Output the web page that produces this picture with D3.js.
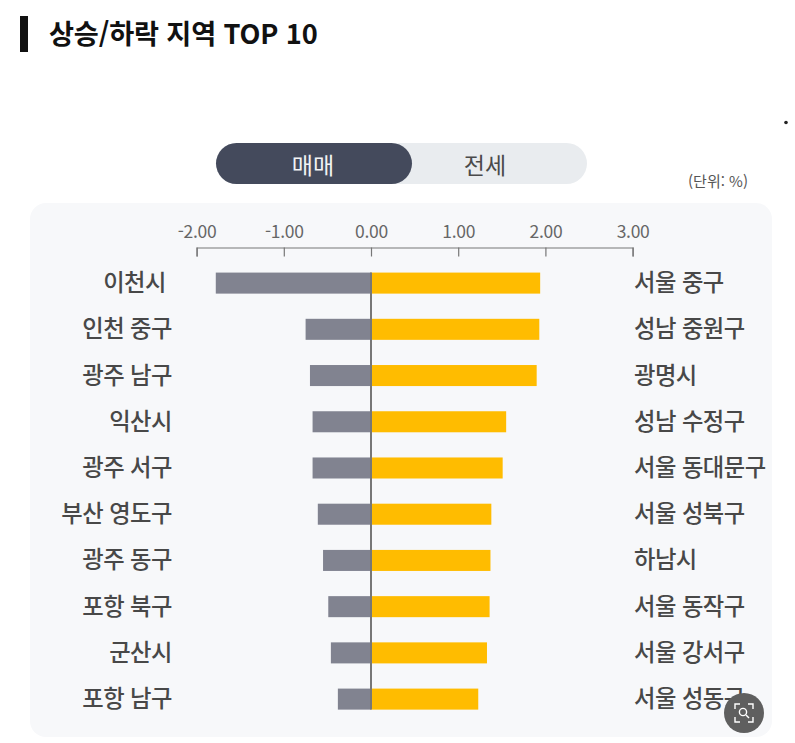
<!DOCTYPE html>
<html lang="ko">
<head>
<meta charset="utf-8">
<script src="https://cdn.jsdelivr.net/npm/d3@7"></script>
<style>
  html, body { margin: 0; padding: 0; background: #fff; }
  text { font-family: "Noto Sans CJK KR", "Noto Sans", sans-serif; }
</style>
</head>
<body>
<div id="main-container"></div>
<script>
var fallNames = ["이천시", "인천 중구", "광주 남구", "익산시", "광주 서구", "부산 영도구", "광주 동구", "포항 북구", "군산시", "포항 남구"];
var fallValues = [-1.78, -0.75, -0.70, -0.67, -0.67, -0.61, -0.55, -0.49, -0.46, -0.38];
var riseNames = ["서울 중구", "성남 중원구", "광명시", "성남 수정구", "서울 동대문구", "서울 성북구", "하남시", "서울 동작구", "서울 강서구", "서울 성동구"];
var riseValues = [1.94, 1.93, 1.90, 1.55, 1.51, 1.38, 1.37, 1.36, 1.33, 1.23];
var tickValues = [-2, -1, 0, 1, 2, 3];
var ranks = d3.range(10);

var width = 795, height = 743;

var svg = d3.select("#main-container")
    .append("svg")
    .attr("width", width)
    .attr("height", height)
    .style("display", "block");

// title
svg.append("rect").attr("x", 20).attr("y", 16).attr("width", 8).attr("height", 36).attr("fill", "#111");
svg.append("text")
    .attr("x", 49).attr("y", 44)
    .attr("font-size", 27.2).attr("font-weight", 700).attr("fill", "#111")
    .style("letter-spacing", "-0.15px")
    .text("상승/하락 지역 TOP 10");

// stray dot at the right edge
svg.append("circle").attr("cx", 786).attr("cy", 122.5).attr("r", 1.8).attr("fill", "#222");

// toggle
svg.append("rect").attr("x", 216).attr("y", 143).attr("width", 371).attr("height", 41).attr("rx", 20.5).attr("fill", "#e9ecef");
svg.append("rect").attr("x", 216).attr("y", 143).attr("width", 196).attr("height", 41).attr("rx", 20.5).attr("fill", "#444a5c");
svg.append("text").attr("x", 313).attr("y", 174).attr("text-anchor", "middle")
    .attr("font-size", 23).attr("fill", "#f2f3f5").text("매매");
svg.append("text").attr("x", 485).attr("y", 174).attr("text-anchor", "middle")
    .attr("font-size", 23).attr("fill", "#4a4a4a").text("전세");

svg.append("text").attr("x", 748).attr("y", 187).attr("text-anchor", "end")
    .attr("font-size", 15).attr("fill", "#555").text("(단위: %)");

// panel
svg.append("rect").attr("x", 30).attr("y", 203).attr("width", 742).attr("height", 534).attr("rx", 16).attr("fill", "#f7f8fa");

var x = d3.scaleLinear().domain([-2, 3]).range([196.6, 632.6]);
var y = d3.scaleBand().domain(ranks).range([260.1, 722.1]).paddingInner(0.545).paddingOuter(0.27);

// axis
var axis = svg.append("g")
    .attr("transform", "translate(0,247.5)")
    .call(d3.axisTop(x).tickValues(tickValues)
        .tickFormat(function(d) { return d3.format(".2f")(d).replace("\u2212", "-"); })
        .tickSize(-9).tickSizeOuter(-9).tickPadding(0));
axis.select(".domain").attr("stroke", "#777").attr("stroke-width", 1.2);
axis.selectAll(".tick line").attr("stroke", "#777").attr("stroke-width", 1.2);
axis.selectAll(".tick text")
    .attr("y", -10).attr("dy", 0)
    .attr("font-family", "Roboto, sans-serif")
    .attr("font-size", 17.5).attr("fill", "#666")
    .style("letter-spacing", "-0.3px");

// bars
svg.selectAll("rect.fall").data(fallValues).enter().append("rect")
    .attr("class", "fall")
    .attr("x", function(d) { return x(d); })
    .attr("y", function(d, i) { return y(i); })
    .attr("width", function(d) { return x(0) - x(d); })
    .attr("height", y.bandwidth())
    .attr("fill", "#818390");

svg.selectAll("rect.rise").data(riseValues).enter().append("rect")
    .attr("class", "rise")
    .attr("x", x(0))
    .attr("y", function(d, i) { return y(i); })
    .attr("width", function(d) { return x(d) - x(0); })
    .attr("height", y.bandwidth())
    .attr("fill", "#ffbc00");

// zero line
svg.append("line")
    .attr("x1", x(0)).attr("x2", x(0))
    .attr("y1", y(0)).attr("y2", y(9) + y.bandwidth())
    .attr("stroke", "#777").attr("stroke-width", 2);

// labels
svg.selectAll("text.fallName").data(fallNames).enter().append("text")
    .attr("class", "fallName")
    .attr("x", function(d, i) { return i === 0 ? 166 : 172; })
    .attr("y", function(d, i) { return y(i) + y.bandwidth() / 2 + 8; })
    .attr("text-anchor", "end")
    .attr("font-size", 23.3).attr("font-weight", 500).attr("fill", "#484848")
    .style("letter-spacing", "-0.5px")
    .text(function(d) { return d; });

svg.selectAll("text.riseName").data(riseNames).enter().append("text")
    .attr("class", "riseName")
    .attr("x", 634)
    .attr("y", function(d, i) { return y(i) + y.bandwidth() / 2 + 8; })
    .attr("font-size", 23.3).attr("font-weight", 500).attr("fill", "#484848")
    .style("letter-spacing", "-0.5px")
    .text(function(d) { return d; });

// zoom button
var btn = svg.append("g").attr("transform", "translate(744,713)");
btn.append("circle").attr("r", 20).attr("fill", "#5f5f5f");
btn.append("path")
    .attr("d", "M-9,-4V-9H-4 M4,-9H9V-4 M9,4V9H4 M-4,9H-9V4")
    .attr("fill", "none").attr("stroke", "#fff").attr("stroke-width", 1.4);
btn.append("circle").attr("cx", -1).attr("cy", -1).attr("r", 3.6).attr("fill", "none").attr("stroke", "#fff").attr("stroke-width", 1.4);
btn.append("line").attr("x1", 2).attr("y1", 2).attr("x2", 5).attr("y2", 5).attr("stroke", "#fff").attr("stroke-width", 1.4);
</script>
</body>
</html>
